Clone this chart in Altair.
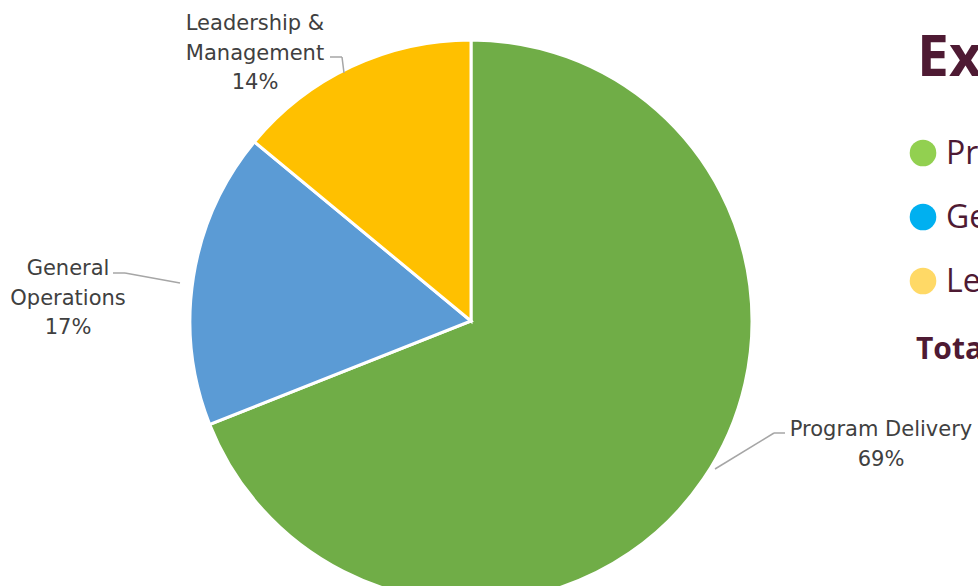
import altair as alt
import pandas as pd

# ---- data ----
categories = ["Program Delivery", "General Operations", "Leadership & Management"]
values = [69, 17, 14]
slice_colors = ["#70AD47", "#5B9BD5", "#FFC000"]
legend_colors = ["#92D050", "#00B0F0", "#FFD966"]
title_text = "Expenses"
total_text = "Total Expenses"

# ---- layout (positions / styles) ----
W, H = 978, 586
CX, CY, R = 471, 321, 281
LABEL_FONT = "DejaVu Sans"
LABEL_SIZE = 21
LABEL_COLOR = "#404040"
LEADER_COLOR = "#A6A6A6"
MAROON = "#4E1A33"
RIGHT_FONT = "Open Sans"

label_layout = {
    "Program Delivery": dict(x=881, y=436, lines=["Program Delivery"]),
    "General Operations": dict(x=68, y=275, lines=["General", "Operations"]),
    "Leadership & Management": dict(x=255, y=30, lines=["Leadership &", "Management"]),
}
leaders = [
    [(715, 469), (774, 433), (785, 433)],
    [(113, 273), (125, 273), (180, 283)],
    [(330, 57), (342, 57), (344, 73)],
]
legend_x, legend_ys, legend_text_x = 923, [153, 217, 281], 946

df = pd.DataFrame({"category": categories, "value": values, "order": list(range(len(values)))})
one = pd.DataFrame({"k": [0]})

pie = alt.Chart(df).mark_arc(outerRadius=R, stroke="white", strokeWidth=3).encode(
    theta=alt.Theta("value:Q", stack=True),
    color=alt.Color("category:N", scale=alt.Scale(domain=categories, range=slice_colors), legend=None),
    order=alt.Order("order:Q"),
    x=alt.value(CX),
    y=alt.value(CY),
)

layers = [pie]

# data labels
for cat, val in zip(categories, values):
    lay = label_layout[cat]
    txt = lay["lines"] + [f"{val}%"]
    layers.append(
        alt.Chart(one).mark_text(
            text=txt, font=LABEL_FONT, fontSize=LABEL_SIZE, color=LABEL_COLOR,
            align="center", baseline="alphabetic", lineHeight=29.5,
        ).encode(x=alt.value(lay["x"]), y=alt.value(lay["y"]))
    )

# leader lines
for pts in leaders:
    for (x1, y1), (x2, y2) in zip(pts[:-1], pts[1:]):
        layers.append(
            alt.Chart(one).mark_rule(color=LEADER_COLOR, strokeWidth=1.5).encode(
                x=alt.value(x1), y=alt.value(y1), x2=alt.value(x2), y2=alt.value(y2)
            )
        )

# right-hand panel (title, legend, total)
layers.append(
    alt.Chart(one).mark_text(
        text=title_text, font=RIGHT_FONT, fontSize=57, fontWeight="bold", color=MAROON,
        align="left", baseline="alphabetic",
    ).encode(x=alt.value(917), y=alt.value(76))
)
for cat, col, ly in zip(categories, legend_colors, legend_ys):
    layers.append(
        alt.Chart(one).mark_circle(size=707, color=col, opacity=1).encode(
            x=alt.value(legend_x), y=alt.value(ly)
        )
    )
    layers.append(
        alt.Chart(one).mark_text(
            text=cat, font=RIGHT_FONT, fontSize=32, color=MAROON,
            align="left", baseline="alphabetic",
        ).encode(x=alt.value(legend_text_x), y=alt.value(ly + 11))
    )
layers.append(
    alt.Chart(one).mark_text(
        text=total_text, font=RIGHT_FONT, fontSize=30, fontWeight="bold", color=MAROON,
        align="left", baseline="alphabetic",
    ).encode(x=alt.value(916), y=alt.value(359))
)

chart = alt.layer(*layers).properties(
    width=W, height=H, padding=0, autosize=alt.AutoSizeParams(type="none")
).configure_view(stroke=None)

chart.save("out.html", embed_options={"renderer": "svg", "actions": False})
